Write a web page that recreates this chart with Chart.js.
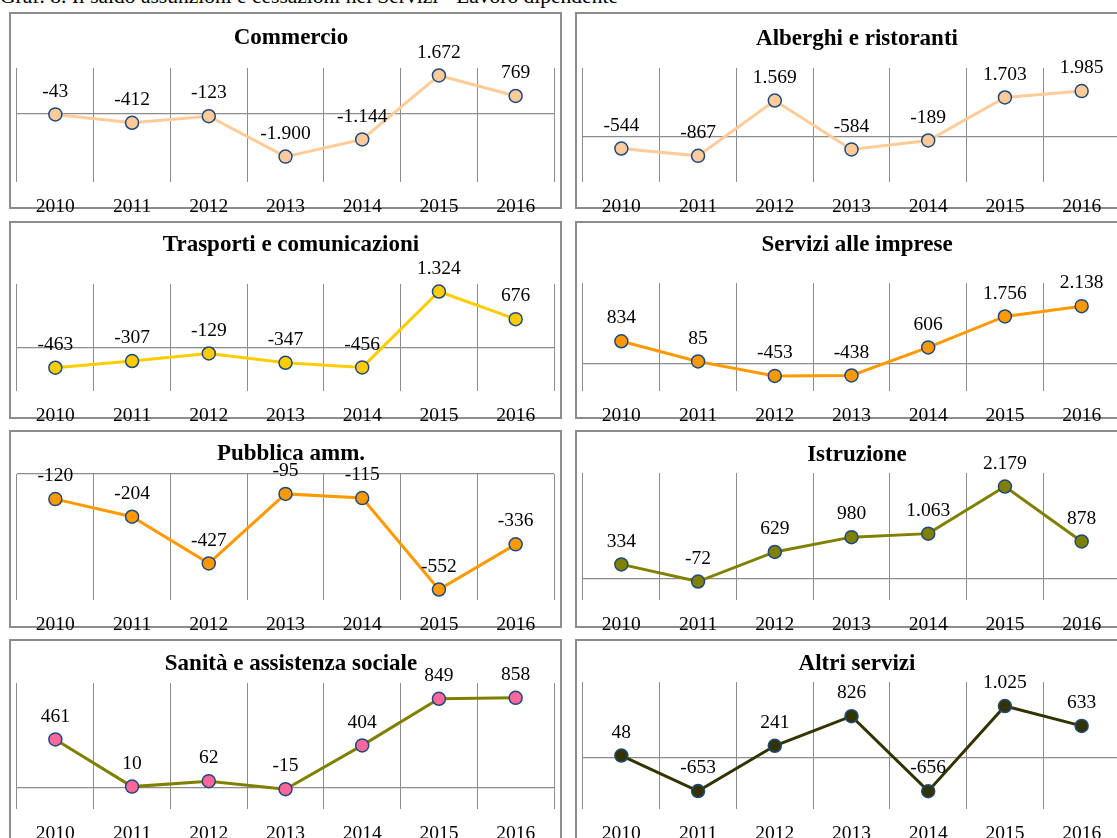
<!DOCTYPE html>
<html>
<head>
<meta charset="utf-8">
<script src="https://cdn.jsdelivr.net/npm/chart.js@4.4.1/dist/chart.umd.min.js"></script>
<style>
  body { margin: 0; background: #fff; width: 1117px; height: 838px; overflow: hidden; position: relative; font-family: 'Liberation Serif', serif; }
  #heading { position: absolute; left: 0; top: -16px; font-size: 21.5px; white-space: nowrap; color: #000; }
  canvas { position: absolute; }
</style>
</head>
<body>
<div id="heading">Graf. 8. Il saldo assunzioni e cessazioni nei Servizi - Lavoro dipendente</div>
<canvas id="commercio" width="553" height="221" style="left:9px;top:12px"></canvas>
<canvas id="alberghi" width="553" height="221" style="left:575px;top:12px"></canvas>
<canvas id="trasporti" width="553" height="221" style="left:9px;top:221px"></canvas>
<canvas id="servizi" width="553" height="221" style="left:575px;top:221px"></canvas>
<canvas id="pubblica" width="553" height="221" style="left:9px;top:430px"></canvas>
<canvas id="istruzione" width="553" height="221" style="left:575px;top:430px"></canvas>
<canvas id="sanita" width="553" height="221" style="left:9px;top:639px"></canvas>
<canvas id="altri" width="553" height="221" style="left:575px;top:639px"></canvas>

<script>
// data
const years = ['2010', '2011', '2012', '2013', '2014', '2015', '2016'];

const commercio = [-43, -412, -123, -1900, -1144, 1672, 769];
const alberghi = [-544, -867, 1569, -584, -189, 1703, 1985];
const trasporti = [-463, -307, -129, -347, -456, 1324, 676];
const serviziImprese = [834, 85, -453, -438, 606, 1756, 2138];
const pubblicaAmm = [-120, -204, -427, -95, -115, -552, -336];
const istruzione = [334, -72, 629, 980, 1063, 2179, 878];
const sanita = [461, 10, 62, -15, 404, 849, 858];
const altriServizi = [48, -653, 241, 826, -656, 1025, 633];

// y axis ranges [min, max]
const commercioRange = [-3000, 2000];
const alberghiRange = [-2000, 3000];
const trasportiRange = [-1000, 1500];
const serviziRange = [-1000, 3000];
const pubblicaRange = [-600, 0];
const istruzioneRange = [-500, 2500];
const sanitaRange = [-200, 1000];
const altriRange = [-1000, 1500];

Chart.defaults.font.family = "'Liberation Serif', 'Times New Roman', serif";
Chart.defaults.color = '#000';

// italian thousands separator
function fmt(v) {
    const s = Math.abs(v).toString().replace(/\B(?=(\d{3})+(?!\d))/g, '.');
    return (v < 0 ? '-' : '') + s;
}

// box round each panel, drawn before the axis labels
const boxPlugin = {
    id: 'box',
    beforeDraw(chart, args, opts) {
        const ctx = chart.ctx;
        ctx.save();
        ctx.strokeStyle = '#8c8c8c';
        ctx.lineWidth = 2;
        ctx.strokeRect(1, 1, chart.width - 2, opts.height - 2);
        ctx.restore();
    }
};

// value labels above the points
const valueLabels = {
    id: 'valueLabels',
    afterDatasetsDraw(chart) {
        const ctx = chart.ctx;
        const meta = chart.getDatasetMeta(0);
        const data = chart.data.datasets[0].data;
        ctx.save();
        ctx.font = "19.5px 'Liberation Serif'";
        ctx.fillStyle = '#000';
        ctx.textAlign = 'center';
        ctx.textBaseline = 'middle';
        meta.data.forEach((pt, i) => {
            ctx.fillText(fmt(data[i]), pt.x, pt.y - 23);
        });
        ctx.restore();
    }
};

function makePanel(id, title, values, range, lineColor, pointColor, titleTop, gridTop, boxHeight) {
    const ctx = document.getElementById(id).getContext('2d');
    return new Chart(ctx, {
        type: 'line',
        data: {
            labels: years,
            datasets: [{
                data: values,
                borderColor: lineColor,
                borderWidth: 3,
                pointRadius: 6.5,
                pointHoverRadius: 6.5,
                pointBackgroundColor: pointColor,
                pointBorderColor: '#1f497d',
                pointBorderWidth: 1.5,
                tension: 0
            }]
        },
        options: {
            responsive: false,
            animation: false,
            layout: { padding: { left: 7, right: -4, top: 0, bottom: 0 } },
            plugins: {
                legend: { display: false },
                tooltip: { enabled: false },
                box: { height: boxHeight },
                title: {
                    display: true,
                    text: title,
                    font: { size: 23, weight: 'bold' },
                    color: '#000',
                    padding: { top: titleTop, bottom: gridTop - titleTop - 27.6 }
                }
            },
            scales: {
                x: {
                    offset: true,
                    grid: { offset: true, color: '#8c8c8c', lineWidth: 1, drawTicks: false },
                    border: { display: false },
                    ticks: { padding: 14, autoSkip: false, maxRotation: 0, font: { size: 19.5 }, color: '#000' }
                },
                y: {
                    min: range[0],
                    max: range[1],
                    ticks: { display: false },
                    grid: {
                        drawTicks: false,
                        color: c => (c.tick && c.tick.value === 0) ? '#8c8c8c' : 'rgba(0,0,0,0)',
                        lineWidth: 1.2
                    },
                    border: { display: false },
                    afterFit: s => { s.width = 0; }
                }
            }
        },
        plugins: [boxPlugin, valueLabels]
    });
}

makePanel('commercio', 'Commercio', commercio, commercioRange, '#ffcc99', '#ffcc99', 12, 56, 197);
makePanel('alberghi', 'Alberghi e ristoranti', alberghi, alberghiRange, '#ffcc99', '#ffcc99', 13, 56, 197);
makePanel('trasporti', 'Trasporti e comunicazioni', trasporti, trasportiRange, '#ffcc00', '#ffcc00', 10, 63, 198);
makePanel('servizi', 'Servizi alle imprese', serviziImprese, serviziRange, '#ff9900', '#ff9900', 10, 62, 198);
makePanel('pubblica', 'Pubblica amm.', pubblicaAmm, pubblicaRange, '#ff9900', '#ff9900', 10, 44, 198);
makePanel('istruzione', 'Istruzione', istruzione, istruzioneRange, '#808000', '#808000', 11, 43, 198);
makePanel('sanita', 'Sanità e assistenza sociale', sanita, sanitaRange, '#808000', '#ff6699', 11, 44, 204);
makePanel('altri', 'Altri servizi', altriServizi, altriRange, '#333300', '#333300', 11, 43, 204);
</script>
</body>
</html>
